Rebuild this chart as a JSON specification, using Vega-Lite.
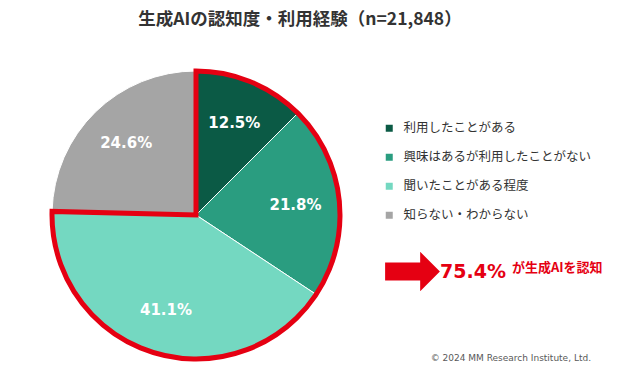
{
  "$schema": "https://vega.github.io/schema/vega-lite/v6.json",
  "autosize": {"type": "none"},
  "width": 392,
  "height": 350,
  "padding": {"left": 0, "top": 40, "right": 248, "bottom": 0},
  "background": "white",
  "title": {
    "text": "生成AIの認知度・利用経験（n=21,848）",
    "font": "Noto Sans CJK JP",
    "fontSize": 17.5,
    "fontWeight": "bold",
    "color": "#333333",
    "anchor": "middle",
    "dx": 104,
    "offset": 12
  },
  "data": {
    "values": [
      {"n": 1, "category": "利用したことがある", "group": "認知", "value": 0.125},
      {"n": 2, "category": "興味はあるが利用したことがない", "group": "認知", "value": 0.218},
      {"n": 3, "category": "聞いたことがある程度", "group": "認知", "value": 0.411},
      {"n": 4, "category": "知らない・わからない", "group": "非認知", "value": 0.246}
    ]
  },
  "layer": [
    {
      "mark": {"type": "arc", "outerRadius": 144, "stroke": "white", "strokeWidth": 1},
      "encoding": {
        "theta": {"field": "value", "type": "quantitative", "stack": true},
        "order": {"field": "n", "type": "quantitative"},
        "fill": {
          "field": "category",
          "type": "nominal",
          "sort": ["利用したことがある", "興味はあるが利用したことがない", "聞いたことがある程度", "知らない・わからない"],
          "scale": {
            "domain": ["利用したことがある", "興味はあるが利用したことがない", "聞いたことがある程度", "知らない・わからない"],
            "range": ["#0b5a45", "#2a9d80", "#74d8c1", "#a5a5a5"]
          },
          "legend": {
            "orient": "none",
            "legendX": 383,
            "legendY": 82,
            "title": "© 2024 MM Research Institute, Ltd.",
            "titleOrient": "bottom",
            "titleAnchor": "end",
            "titlePadding": 132,
            "titleFont": "DejaVu Sans",
            "titleFontSize": 9,
            "titleFontWeight": "normal",
            "titleColor": "#595959",
            "titleLimit": 300,
            "symbolType": "square",
            "symbolSize": 49,
            "symbolStrokeWidth": 0,
            "labelFont": "Noto Sans CJK JP",
            "labelFontSize": 12.5,
            "labelColor": "#333333",
            "labelOffset": 8,
            "labelLimit": 300,
            "rowPadding": 16,
            "padding": 0
          }
        }
      }
    },
    {
      "transform": [{"aggregate": [{"op": "sum", "field": "value", "as": "value"}], "groupby": ["group"]}],
      "mark": {"type": "arc", "outerRadius": 144, "filled": false, "strokeWidth": 5, "strokeJoin": "miter"},
      "encoding": {
        "theta": {"field": "value", "type": "quantitative", "stack": true},
        "order": {"field": "group", "type": "nominal"},
        "stroke": {
          "field": "group",
          "type": "nominal",
          "scale": {"domain": ["認知", "非認知"], "range": ["#e50012", "transparent"]},
          "legend": {
            "orient": "none",
            "legendX": 385,
            "legendY": 204,
            "values": ["認知"],
            "labelExpr": "'75.4%'",
            "title": "が生成AIを認知",
            "titleOrient": "right",
            "titleFont": "Noto Sans CJK JP",
            "titleFontSize": 13,
            "titleFontWeight": "bold",
            "titleColor": "#e50012",
            "titlePadding": 6,
            "titleBaseline": "middle",
            "symbolType": "M-1,-0.33L0.28,-0.33L0.28,-0.72L1,0L0.28,0.72L0.28,0.33L-1,0.33Z",
            "symbolSize": 3000,
            "symbolFillColor": "#e50012",
            "symbolStrokeWidth": 0,
            "labelFont": "DejaVu Sans",
            "labelFontSize": 19,
            "labelFontWeight": "bold",
            "labelColor": "#e50012",
            "labelOffset": 0,
            "padding": 0
          }
        }
      }
    },
    {
      "mark": {"type": "text", "radius": 100, "fill": "white", "font": "DejaVu Sans", "fontSize": 15, "fontWeight": "bold"},
      "encoding": {
        "theta": {"field": "value", "type": "quantitative", "stack": true},
        "order": {"field": "n", "type": "quantitative"},
        "text": {"field": "value", "type": "quantitative", "format": ".1%"}
      }
    }
  ],
  "config": {"view": {"stroke": null}}
}
